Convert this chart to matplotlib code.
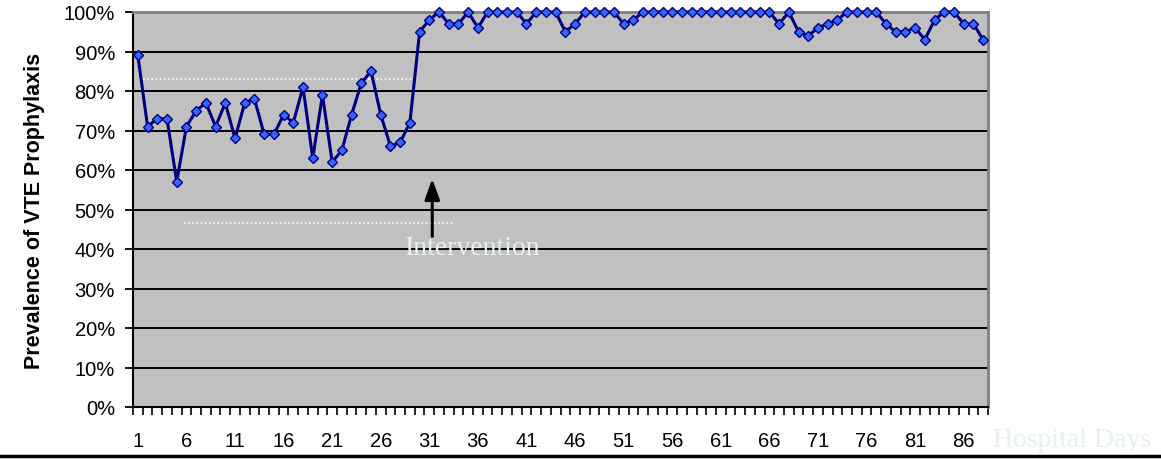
import matplotlib
matplotlib.use("Agg")
import matplotlib.pyplot as plt
from matplotlib.lines import Line2D
import numpy as np

# ---- data ----
days = list(range(1, 89))
prevalence = [
    89, 71, 73, 73, 57, 71, 75, 77, 71, 77,
    68, 77, 78, 69, 69, 74, 72, 81, 63, 79,
    62, 65, 74, 82, 85, 74, 66, 67, 72, 95,
    98, 100, 97, 97, 100, 96, 100, 100, 100, 100,
    97, 100, 100, 100, 95, 97, 100, 100, 100, 100,
    97, 98, 100, 100, 100, 100, 100, 100, 100, 100,
    100, 100, 100, 100, 100, 100, 97, 100, 95, 94,
    96, 97, 98, 100, 100, 100, 100, 97, 95, 95,
    96, 93, 98, 100, 100, 97, 97, 93,
]
x_tick_labels = [str(d) for d in range(1, 89, 5)]
y_ticks = list(range(0, 101, 10))
y_tick_labels = [f"{v}%" for v in y_ticks]

# annotation geometry (data coords)
upper_ref = (1.5, 29.5, 83)
lower_ref = (5.7, 33.6, 46.6)
arrow_x, arrow_tip, arrow_tail = 31.3, 58.5, 42.5
text_x, text_y = 35.5, 40.5

plt.rcParams['font.family'] = ['Liberation Sans', 'DejaVu Sans']

fig = plt.figure(figsize=(11.61, 4.60), dpi=100)
ax = fig.add_axes([133/1161, 1-408/460, (988-133)/1161, (408-13)/460])
ax.set_facecolor('#C0C0C0')

ax.set_xlim(0.5, len(days) + 0.5)
ax.set_ylim(0, 100)

for v in y_ticks[1:-1]:
    ax.axhline(v, color='black', linewidth=1.4, zorder=1)

# reference dotted lines
ax.plot([upper_ref[0], upper_ref[1]], [upper_ref[2]]*2, color='white',
        linestyle=(0, (1, 1.5)), linewidth=1.2, zorder=2)
ax.plot([lower_ref[0], lower_ref[1]], [lower_ref[2]]*2, color='white',
        linestyle=(0, (1, 1.5)), linewidth=1.2, zorder=2)

ax.plot(days, prevalence, color='#000080', linewidth=2.2, marker='D',
        markersize=5.4, markerfacecolor='#3366FF', markeredgecolor='#000080',
        markeredgewidth=1.0, zorder=5, clip_on=False)

ax.annotate('', xy=(arrow_x, arrow_tip), xytext=(arrow_x, arrow_tail),
            arrowprops=dict(arrowstyle='-|>,head_width=0.45,head_length=1.25',
                            color='black', linewidth=2.2), zorder=4)
ax.text(text_x, text_y, 'Intervention', ha='center', va='center',
        fontsize=20, color='#E8F0F4', family=['Liberation Serif', 'DejaVu Serif'],
        zorder=6)

# axes styling
ax.spines['left'].set_color('black')
ax.spines['left'].set_linewidth(1.5)
ax.spines['bottom'].set_color('black')
ax.spines['bottom'].set_linewidth(1.5)
ax.spines['top'].set_color('#808080')
ax.spines['top'].set_linewidth(2)
ax.spines['right'].set_color('#808080')
ax.spines['right'].set_linewidth(2)

ax.set_yticks(y_ticks)
ax.set_yticklabels(y_tick_labels, fontsize=14.5)
ax.tick_params(axis='y', direction='out', length=6, width=1.3, pad=7, colors='black')

ax.set_xticks(list(range(1, 89, 5)))
ax.set_xticklabels(x_tick_labels, fontsize=14.5)
ax.set_xticks(np.arange(0.5, len(days) + 1, 1.0), minor=True)
ax.tick_params(axis='x', which='major', length=0, pad=17)
ax.tick_params(axis='x', which='minor', direction='out', length=6, width=1.2)

ax.set_ylabel('Prevalence of VTE Prophylaxis', fontsize=15.5, fontweight='bold')
ax.yaxis.set_label_coords(-0.103, 0.5)

fig.text(1072/1161, 1-441/460, 'Hospital Days', ha='center', va='center',
         fontsize=20, color='#E8F0F4', family=['Liberation Serif', 'DejaVu Serif'])

fig.add_artist(Line2D([0, 1], [1-456.5/460]*2, color='black', linewidth=2.5,
                      transform=fig.transFigure))

fig.savefig('out.png', dpi=100)
